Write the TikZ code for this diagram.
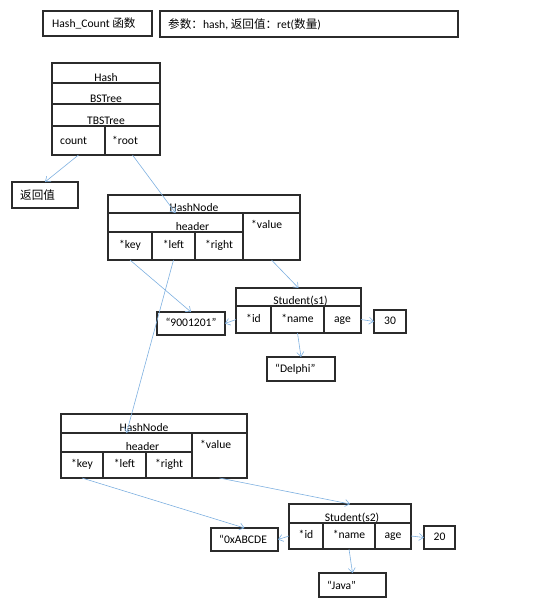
\documentclass[tikz,border=0pt]{standalone}
\usepackage{fontspec}
\setmainfont{Carlito}
\newfontfamily\cjk{Noto Sans CJK SC}
\usetikzlibrary{positioning, arrows.meta}
\definecolor{boxLine}{HTML}{2B2B2B}
\definecolor{linkBlue}{HTML}{7EB0E0}

\begin{document}
\begin{tikzpicture}[
    x=1pt, y=-1pt,
    font=\fontsize{11.6}{13}\selectfont,
    cell/.style 2 args={rectangle, draw=boxLine, line width=1.1pt, inner sep=0pt, outer sep=0pt, anchor=north west, minimum width=#1, minimum height=#2, text height=8pt, text depth=2.5pt},
    ltext/.style 2 args={label={[anchor=west, inner sep=0pt, xshift=#1]west:{#2}}},
    ttext/.style 2 args={label={[anchor=base, inner sep=0pt, xshift=#1, yshift=2pt]south:{#2}}},
    vtext/.style={label={[anchor=north west, inner sep=0pt, xshift=8pt, yshift=-7pt]north west:{#1}}},
    link/.style={draw=linkBlue, line width=0.6pt, -{Straight Barb[length=4.5pt, width=7pt]}}
]
\useasboundingbox (0,0) rectangle (536,611);

% header line
\node[cell={109pt}{25pt}, ltext={9pt}{Hash\_Count {\cjk 函数}}] (func) at (43,11) {};
\node[cell={298pt}{26pt}, ltext={8pt}{{\cjk 参数：}hash, {\cjk 返回值：}ret({\cjk 数量})}] (params) at (160,11) {};

% Hash
\node[cell={108pt}{20pt}, ttext={0pt}{Hash}] (hash) at (52,63) {};
\node[cell={108pt}{21pt}, ttext={0pt}{BSTree}] (bst) at (hash.south west) {};
\node[cell={108pt}{22pt}, ttext={0pt}{TBSTree}] (tbst) at (bst.south west) {};
\node[cell={53pt}{29pt}, ltext={8pt}{count}] (count) at (tbst.south west) {};
\node[cell={55pt}{29pt}, ltext={7pt}{*root}] (root) at (count.north east) {};
\node[cell={66pt}{26pt}, ltext={8pt}{\cjk 返回值}] (ret) at (12,182) {};

% HashNode 1
\node[cell={192pt}{18pt}, ttext={-10pt}{HashNode}] (hn1) at (108,195) {};
\node[cell={135pt}{19pt}, ttext={17pt}{header}] (hdr1) at (hn1.south west) {};
\node[cell={44pt}{28pt}] (key1) at (hdr1.south west) {*key};
\node[cell={43pt}{28pt}] (left1) at (key1.north east) {*left};
\node[cell={48pt}{28pt}] (right1) at (left1.north east) {*right};
\node[cell={57pt}{47pt}, vtext={*value}] (val1) at (hdr1.north east) {};

% Student s1
\node[cell={125pt}{18pt}, ttext={2pt}{Student(s1)}] (stu1) at (236,288) {};
\node[cell={35pt}{27pt}] (id1) at (stu1.south west) {*id};
\node[cell={53pt}{27pt}] (name1) at (id1.north east) {*name};
\node[cell={37pt}{27pt}] (age1) at (name1.north east) {age};
\node[cell={68pt}{23pt}] (str1) at (157,312) {“9001201”};
\node[cell={32pt}{23pt}] (n30) at (374,310) {30};
\node[cell={68pt}{24pt}, ltext={8pt}{“Delphi”}] (delphi) at (267,357) {};

% HashNode 2
\node[cell={186pt}{19pt}, ttext={-10pt}{HashNode}] (hn2) at (61,414) {};
\node[cell={131pt}{19pt}, ttext={16pt}{header}] (hdr2) at (hn2.south west) {};
\node[cell={42pt}{26pt}] (key2) at (hdr2.south west) {*key};
\node[cell={43pt}{26pt}] (left2) at (key2.north east) {*left};
\node[cell={46pt}{26pt}] (right2) at (left2.north east) {*right};
\node[cell={55pt}{45pt}, vtext={*value}] (val2) at (hdr2.north east) {};

% Student s2
\node[cell={122pt}{19pt}, ttext={2pt}{Student(s2)}] (stu2) at (289,504) {};
\node[cell={34pt}{26pt}] (id2) at (stu2.south west) {*id};
\node[cell={52pt}{26pt}] (name2) at (id2.north east) {*name};
\node[cell={36pt}{26pt}] (age2) at (name2.north east) {age};
\node[cell={67pt}{23pt}, ltext={8pt}{“0xABCDE}] (str2) at (211,528) {};
\node[cell={31pt}{23pt}] (n20) at (424,526) {20};
\node[cell={67pt}{24pt}, ltext={8pt}{“Java”}] (java) at (319,573) {};

% pointers
\draw[link] (count.south) -- (ret.north);
\draw[link] (root.south) -- (hdr1.north);
\draw[link] (key1.south) -- (str1.north);
\draw[link] (left1.south) -- (hdr2.north);
\draw[link] (val1.south) -- (stu1.north);
\draw[link] (id1.west) -- (str1.east);
\draw[link] (age1.east) -- (n30.west);
\draw[link] (name1.south) -- (delphi.north);
\draw[link] (key2.south) -- (str2.north);
\draw[link] (val2.south) -- (stu2.north);
\draw[link] (id2.west) -- (str2.east);
\draw[link] (age2.east) -- (n20.west);
\draw[link] (name2.south) -- (java.north);

\end{tikzpicture}
\end{document}
